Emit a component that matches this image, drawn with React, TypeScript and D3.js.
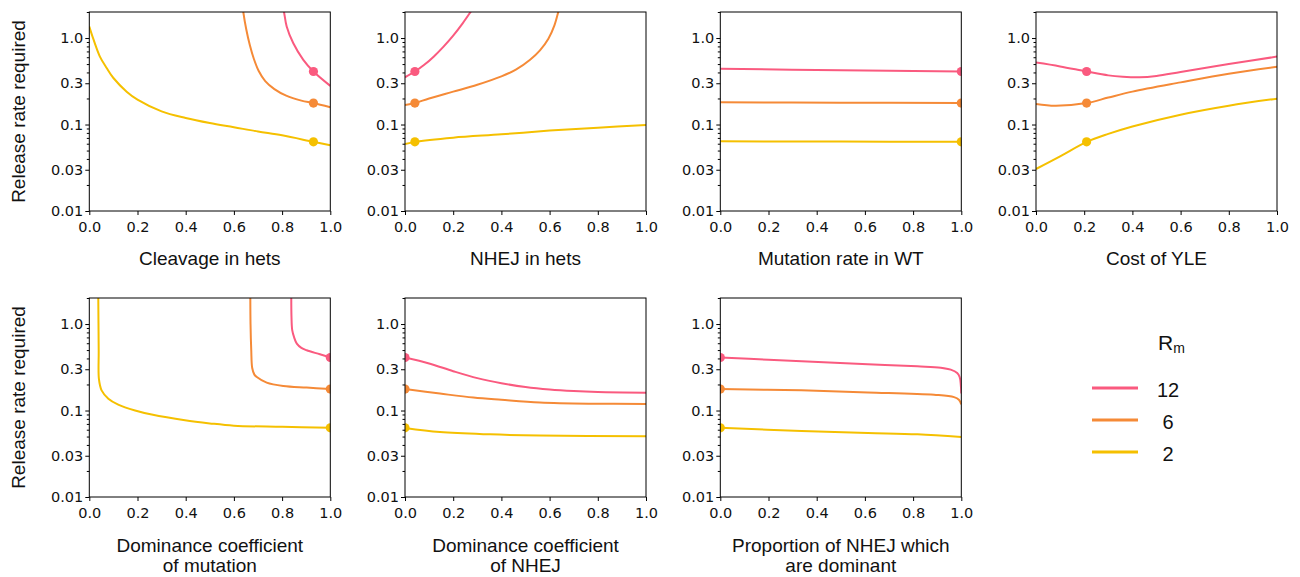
import React, { useEffect, useRef } from "react";
import * as d3 from "d3";

const width = 1300;
const height = 577;
const pink = "#fa5a7f";
const orange = "#f58a37";
const yellow = "#f5c000";
const colors = [pink, orange, yellow];

type Pt = [number, number];

// panel layout (plot areas)
const colX = [89.3, 405, 720.3, 1036];
const rowY = [12, 298];
const pw = 241;
const ph = 199;

// ticks
const xTicks = [0, 0.2, 0.4, 0.6, 0.8, 1.0];
const yTicks = [0.01, 0.03, 0.1, 0.3, 1.0];
const yTickLabels = ["0.01", "0.03", "0.1", "0.3", "1.0"];
const yMinor = [0.02, 0.04, 0.05, 0.06, 0.07, 0.08, 0.09, 0.2, 0.4, 0.5, 0.6, 0.7, 0.8, 0.9, 2];

// legend
const rmLabels = ["12", "6", "2"];

// default values (dots), same for every panel: Rm = 12, 6, 2
const baseline = [0.41, 0.177, 0.063];

// Cleavage in hets
const cleavageR12: Pt[] = [[0.8, 2.6], [0.808, 2.0], [0.819, 1.36], [0.846, 0.875], [0.888, 0.56], [0.93, 0.41], [1, 0.28]];
const cleavageR6: Pt[] = [[0.634, 2.6], [0.639, 2.0], [0.651, 1.27], [0.666, 0.83], [0.683, 0.572], [0.703, 0.416], [0.73, 0.318], [0.768, 0.257], [0.817, 0.216], [0.88, 0.189], [0.93, 0.177], [1, 0.158]];
const cleavageR2: Pt[] = [[0, 1.36], [0.017, 0.97], [0.044, 0.61], [0.072, 0.45], [0.1, 0.345], [0.155, 0.24], [0.2, 0.194], [0.3, 0.142], [0.4, 0.119], [0.5, 0.104], [0.6, 0.093], [0.7, 0.083], [0.8, 0.075], [0.93, 0.063], [1, 0.0575]];

// NHEJ in hets
const nhejR12: Pt[] = [[0, 0.352], [0.041, 0.41], [0.08, 0.49], [0.12, 0.613], [0.16, 0.796], [0.2, 1.066], [0.24, 1.49], [0.272, 2.0], [0.29, 2.38]];
const nhejR6: Pt[] = [[0, 0.168], [0.041, 0.177], [0.1, 0.2], [0.2, 0.24], [0.3, 0.288], [0.4, 0.36], [0.46, 0.43], [0.519, 0.56], [0.56, 0.72], [0.595, 0.98], [0.62, 1.4], [0.636, 2.0], [0.645, 2.5]];
const nhejR2: Pt[] = [[0, 0.0595], [0.041, 0.063], [0.2, 0.0705], [0.4, 0.077], [0.6, 0.085], [0.8, 0.092], [1, 0.0986]];

// Mutation rate in WT
const mutR12: Pt[] = [[0, 0.44], [0.5, 0.425], [1, 0.41]];
const mutR6: Pt[] = [[0, 0.181], [0.5, 0.179], [1, 0.177]];
const mutR2: Pt[] = [[0, 0.064], [0.5, 0.0635], [1, 0.063]];

// Cost of YLE
const costR12: Pt[] = [[0, 0.52], [0.1, 0.47], [0.21, 0.41], [0.3, 0.37], [0.36, 0.357], [0.43, 0.352], [0.5, 0.365], [0.6, 0.405], [0.8, 0.5], [1, 0.61]];
const costR6: Pt[] = [[0, 0.173], [0.08, 0.165], [0.21, 0.177], [0.3, 0.205], [0.4, 0.24], [0.6, 0.307], [0.8, 0.387], [1, 0.466]];
const costR2: Pt[] = [[0, 0.0306], [0.1, 0.0428], [0.21, 0.063], [0.3, 0.078], [0.4, 0.095], [0.6, 0.13], [0.8, 0.165], [1, 0.199]];

// Dominance coefficient of mutation
const domMutR12: Pt[] = [[0.838, 2.5], [0.839, 1.2], [0.842, 0.85], [0.85, 0.7], [0.861, 0.593], [0.88, 0.53], [0.902, 0.497], [0.957, 0.447], [1, 0.41]];
const domMutR6: Pt[] = [[0.668, 2.5], [0.669, 1.0], [0.672, 0.5], [0.676, 0.31], [0.685, 0.26], [0.695, 0.244], [0.736, 0.21], [0.805, 0.192], [0.902, 0.184], [1, 0.177]];
const domMutR2: Pt[] = [[0.037, 2.5], [0.039, 0.5], [0.04, 0.23], [0.051, 0.171], [0.079, 0.137], [0.12, 0.117], [0.19, 0.1], [0.259, 0.0897], [0.397, 0.077], [0.5, 0.071], [0.6, 0.0668], [0.8, 0.0647], [1, 0.063]];

// Dominance coefficient of NHEJ
const domNhejR12: Pt[] = [[0, 0.41], [0.1, 0.35], [0.2, 0.285], [0.3, 0.237], [0.4, 0.207], [0.5, 0.187], [0.6, 0.175], [0.7, 0.168], [0.8, 0.164], [1, 0.161]];
const domNhejR6: Pt[] = [[0, 0.177], [0.145, 0.157], [0.284, 0.141], [0.4, 0.133], [0.56, 0.124], [0.77, 0.12], [1, 0.119]];
const domNhejR2: Pt[] = [[0, 0.063], [0.145, 0.0564], [0.353, 0.053], [0.56, 0.0514], [1, 0.0503]];

// Proportion of NHEJ which are dominant
const propR12: Pt[] = [[0, 0.41], [0.2, 0.387], [0.406, 0.364], [0.612, 0.342], [0.818, 0.324], [0.915, 0.313], [0.956, 0.297], [0.983, 0.271], [0.993, 0.244], [1, 0.157]];
const propR6: Pt[] = [[0, 0.177], [0.337, 0.171], [0.612, 0.162], [0.887, 0.152], [0.97, 0.143], [0.99, 0.133], [1, 0.118]];
const propR2: Pt[] = [[0, 0.063], [0.337, 0.058], [0.612, 0.055], [0.818, 0.053], [1, 0.0494]];

const panels = [
  { label: ["Cleavage in hets"], series: [cleavageR12, cleavageR6, cleavageR2], dotX: 0.93 },
  { label: ["NHEJ in hets"], series: [nhejR12, nhejR6, nhejR2], dotX: 0.041 },
  { label: ["Mutation rate in WT"], series: [mutR12, mutR6, mutR2], dotX: 1.0 },
  { label: ["Cost of YLE"], series: [costR12, costR6, costR2], dotX: 0.21 },
  { label: ["Dominance coefficient", "of mutation"], series: [domMutR12, domMutR6, domMutR2], dotX: 1.0 },
  { label: ["Dominance coefficient", "of NHEJ"], series: [domNhejR12, domNhejR6, domNhejR2], dotX: 0.0 },
  { label: ["Proportion of NHEJ which", "are dominant"], series: [propR12, propR6, propR2], dotX: 0.0 },
];

const tickFont = "DejaVu Sans, sans-serif";
const labelFont = "Liberation Sans, Arial, sans-serif";

function Panel({ idx, x0, y0, label, series, dotX, showYLabel }: any) {
  const xRef = useRef<SVGGElement>(null);
  const yRef = useRef<SVGGElement>(null);
  const yMinorRef = useRef<SVGGElement>(null);

  const xScale = d3.scaleLinear().domain([0, 1]).range([0, pw]);
  const yScale = d3.scaleLog().domain([0.01, 2]).range([ph, 0]);
  const line = d3
    .line<Pt>()
    .x(d => xScale(d[0]))
    .y(d => yScale(d[1]))
    .curve(d3.curveCatmullRom.alpha(0.5));

  useEffect(() => {
    const xAxis = d3
      .axisBottom(xScale)
      .tickValues(xTicks)
      .tickFormat(d3.format(".1f") as any)
      .tickSize(4)
      .tickSizeOuter(0)
      .tickPadding(7);
    const yAxis = d3
      .axisLeft(yScale)
      .tickValues(yTicks)
      .tickFormat((d, i) => yTickLabels[i])
      .tickSize(4)
      .tickSizeOuter(0)
      .tickPadding(2);
    const yMinorAxis = d3
      .axisLeft(yScale)
      .tickValues(yMinor)
      .tickFormat(() => "")
      .tickSize(2.5)
      .tickSizeOuter(0);

    [
      [xRef, xAxis],
      [yRef, yAxis],
      [yMinorRef, yMinorAxis],
    ].forEach(([ref, axis]: any) => {
      const g = d3.select(ref.current);
      g.call(axis);
      g.select(".domain").remove();
      g.attr("font-family", tickFont).attr("font-size", 14.5);
      g.selectAll("line").attr("stroke", "#000").attr("stroke-width", 1);
      g.selectAll("text").attr("fill", "#111");
    });
  });

  const cx = pw / 2;
  const xLabelBase = ph + (label.length > 1 ? 55 : 54);

  return (
    <g transform={`translate(${x0}, ${y0})`}>
      <defs>
        <clipPath id={`clip-${idx}`}>
          <rect x={0} y={0} width={pw} height={ph} />
        </clipPath>
      </defs>
      <g clipPath={`url(#clip-${idx})`}>
        {series.map((s: Pt[], i: number) => (
          <path key={i} d={line(s) || ""} fill="none" stroke={colors[i]} strokeWidth={2} />
        ))}
        {baseline.map((b, i) => (
          <circle key={i} cx={xScale(dotX)} cy={yScale(b)} r={4.6} fill={colors[i]} />
        ))}
      </g>
      <rect x={0} y={0} width={pw} height={ph} fill="none" stroke="#000" strokeWidth={1} />
      <g ref={xRef} transform={`translate(0, ${ph})`} />
      <g ref={yRef} />
      <g ref={yMinorRef} />
      {label.map((t: string, i: number) => (
        <text
          key={i}
          x={cx}
          y={xLabelBase + i * 20}
          textAnchor="middle"
          fontFamily={labelFont}
          fontSize={19}
          fill="#111"
        >
          {t}
        </text>
      ))}
      {showYLabel && (
        <text
          transform={`translate(${25 - x0}, ${ph / 2}) rotate(-90)`}
          textAnchor="middle"
          fontFamily={labelFont}
          fontSize={19}
          fill="#111"
        >
          Release rate required
        </text>
      )}
    </g>
  );
}

function Legend() {
  const lineX0 = 1092;
  const lineX1 = 1138;
  const textX = 1168;
  const y0 = 388;
  const step = 32;
  return (
    <g>
      <text x={1158} y={350} fontFamily={labelFont} fontSize={21} fill="#111">
        R
        <tspan fontSize={14} dy={3}>m</tspan>
      </text>
      {rmLabels.map((t, i) => (
        <g key={t}>
          <line
            x1={lineX0}
            x2={lineX1}
            y1={y0 + i * step}
            y2={y0 + i * step}
            stroke={colors[i]}
            strokeWidth={3}
          />
          <text
            x={textX}
            y={y0 + i * step + 8.5}
            textAnchor="middle"
            fontFamily={labelFont}
            fontSize={20}
            fill="#111"
          >
            {t}
          </text>
        </g>
      ))}
    </g>
  );
}

export default function App() {
  return (
    <svg
      width={width}
      height={height}
      style={{ position: "absolute", left: 0, top: 0, background: "#fff" }}
    >
      <rect width={width} height={height} fill="#fff" />
      {panels.map((p, i) => (
        <Panel
          key={i}
          idx={i}
          x0={colX[i % 4]}
          y0={rowY[Math.floor(i / 4)]}
          label={p.label}
          series={p.series}
          dotX={p.dotX}
          showYLabel={i % 4 === 0}
        />
      ))}
      <Legend />
    </svg>
  );
}
